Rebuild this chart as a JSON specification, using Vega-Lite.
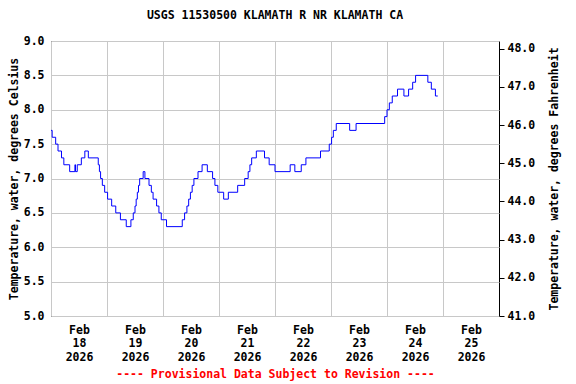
{
  "$schema": "https://vega.github.io/schema/vega-lite/v6.json",
  "width": 448,
  "height": 275,
  "autosize": {"type": "none"},
  "padding": {"left": 51, "top": 41, "right": 77, "bottom": 68},
  "background": "white",
  "config": {
    "view": {"stroke": "black", "strokeWidth": 1},
    "font": "DejaVu Sans Mono",
    "axis": {"labelFont": "DejaVu Sans Mono", "titleFont": "DejaVu Sans Mono", "labelFontWeight": "bold", "titleFontWeight": "bold", "labelFontSize": 11.5, "titleFontSize": 11.5, "labelColor": "black", "titleColor": "black", "domain": false, "gridColor": "#c8c8c8", "gridWidth": 1, "gridOpacity": 1}
  },
  "title": {"text": "USGS 11530500 KLAMATH R NR KLAMATH CA", "font": "DejaVu Sans Mono", "fontSize": 11.5, "fontWeight": "bold", "color": "black", "anchor": "middle", "offset": 14},
  "data": {"values": [
    {"t": "2026-02-18T00:00", "v": 7.7},
    {"t": "2026-02-18T00:30", "v": 7.6},
    {"t": "2026-02-18T02:00", "v": 7.5},
    {"t": "2026-02-18T03:00", "v": 7.4},
    {"t": "2026-02-18T04:30", "v": 7.3},
    {"t": "2026-02-18T05:30", "v": 7.2},
    {"t": "2026-02-18T08:00", "v": 7.1},
    {"t": "2026-02-18T10:15", "v": 7.2},
    {"t": "2026-02-18T10:30", "v": 7.1},
    {"t": "2026-02-18T11:15", "v": 7.2},
    {"t": "2026-02-18T13:00", "v": 7.3},
    {"t": "2026-02-18T14:30", "v": 7.4},
    {"t": "2026-02-18T16:00", "v": 7.3},
    {"t": "2026-02-18T20:15", "v": 7.2},
    {"t": "2026-02-18T20:45", "v": 7.1},
    {"t": "2026-02-18T21:15", "v": 7.0},
    {"t": "2026-02-18T22:00", "v": 6.9},
    {"t": "2026-02-18T23:00", "v": 6.8},
    {"t": "2026-02-19T00:15", "v": 6.7},
    {"t": "2026-02-19T02:00", "v": 6.6},
    {"t": "2026-02-19T03:45", "v": 6.5},
    {"t": "2026-02-19T05:45", "v": 6.4},
    {"t": "2026-02-19T08:15", "v": 6.3},
    {"t": "2026-02-19T10:15", "v": 6.4},
    {"t": "2026-02-19T11:15", "v": 6.5},
    {"t": "2026-02-19T12:00", "v": 6.6},
    {"t": "2026-02-19T12:30", "v": 6.7},
    {"t": "2026-02-19T13:00", "v": 6.8},
    {"t": "2026-02-19T13:30", "v": 6.9},
    {"t": "2026-02-19T14:00", "v": 7.0},
    {"t": "2026-02-19T15:30", "v": 7.1},
    {"t": "2026-02-19T16:15", "v": 7.0},
    {"t": "2026-02-19T18:00", "v": 6.9},
    {"t": "2026-02-19T19:00", "v": 6.8},
    {"t": "2026-02-19T19:45", "v": 6.7},
    {"t": "2026-02-19T21:15", "v": 6.6},
    {"t": "2026-02-19T22:15", "v": 6.5},
    {"t": "2026-02-19T23:15", "v": 6.4},
    {"t": "2026-02-20T01:30", "v": 6.3},
    {"t": "2026-02-20T08:15", "v": 6.4},
    {"t": "2026-02-20T09:15", "v": 6.5},
    {"t": "2026-02-20T10:15", "v": 6.6},
    {"t": "2026-02-20T11:00", "v": 6.7},
    {"t": "2026-02-20T11:45", "v": 6.8},
    {"t": "2026-02-20T12:30", "v": 6.9},
    {"t": "2026-02-20T13:15", "v": 7.0},
    {"t": "2026-02-20T15:00", "v": 7.1},
    {"t": "2026-02-20T16:45", "v": 7.2},
    {"t": "2026-02-20T19:00", "v": 7.1},
    {"t": "2026-02-20T21:15", "v": 7.0},
    {"t": "2026-02-20T22:15", "v": 6.9},
    {"t": "2026-02-20T23:30", "v": 6.8},
    {"t": "2026-02-21T02:00", "v": 6.7},
    {"t": "2026-02-21T04:00", "v": 6.8},
    {"t": "2026-02-21T08:00", "v": 6.9},
    {"t": "2026-02-21T11:00", "v": 7.0},
    {"t": "2026-02-21T12:30", "v": 7.1},
    {"t": "2026-02-21T13:15", "v": 7.2},
    {"t": "2026-02-21T14:00", "v": 7.3},
    {"t": "2026-02-21T16:00", "v": 7.4},
    {"t": "2026-02-21T19:30", "v": 7.3},
    {"t": "2026-02-21T21:30", "v": 7.2},
    {"t": "2026-02-22T00:00", "v": 7.1},
    {"t": "2026-02-22T06:30", "v": 7.2},
    {"t": "2026-02-22T08:30", "v": 7.1},
    {"t": "2026-02-22T11:15", "v": 7.2},
    {"t": "2026-02-22T13:15", "v": 7.3},
    {"t": "2026-02-22T19:30", "v": 7.4},
    {"t": "2026-02-22T23:15", "v": 7.5},
    {"t": "2026-02-23T00:15", "v": 7.6},
    {"t": "2026-02-23T01:00", "v": 7.7},
    {"t": "2026-02-23T02:15", "v": 7.8},
    {"t": "2026-02-23T08:00", "v": 7.7},
    {"t": "2026-02-23T10:45", "v": 7.8},
    {"t": "2026-02-23T23:00", "v": 7.9},
    {"t": "2026-02-24T00:00", "v": 8.0},
    {"t": "2026-02-24T01:00", "v": 8.1},
    {"t": "2026-02-24T02:15", "v": 8.2},
    {"t": "2026-02-24T04:30", "v": 8.3},
    {"t": "2026-02-24T07:15", "v": 8.2},
    {"t": "2026-02-24T09:15", "v": 8.3},
    {"t": "2026-02-24T11:00", "v": 8.4},
    {"t": "2026-02-24T12:15", "v": 8.5},
    {"t": "2026-02-24T17:30", "v": 8.4},
    {"t": "2026-02-24T19:00", "v": 8.3},
    {"t": "2026-02-24T20:45", "v": 8.2},
    {"t": "2026-02-24T21:45", "v": 8.2}
  ]},
  "layer": [
    {
      "mark": {"type": "line", "interpolate": "step-after", "color": "#0000ff", "strokeWidth": 1},
      "encoding": {
        "x": {"field": "t", "type": "temporal",
          "scale": {"domain": [{"year": 2026, "month": 2, "date": 18}, {"year": 2026, "month": 2, "date": 26}]},
          "axis": {
            "values": [
              {"year": 2026, "month": 2, "date": 18}, {"year": 2026, "month": 2, "date": 19},
              {"year": 2026, "month": 2, "date": 20}, {"year": 2026, "month": 2, "date": 21},
              {"year": 2026, "month": 2, "date": 22}, {"year": 2026, "month": 2, "date": 23},
              {"year": 2026, "month": 2, "date": 24}, {"year": 2026, "month": 2, "date": 25}
            ],
            "labelExpr": "[timeFormat(datum.value, '%b'), timeFormat(datum.value, '%d'), timeFormat(datum.value, '%Y')]",
            "labelOffset": 28, "labelAlign": "center", "labelBaseline": "top", "labelLineHeight": 13.5,
            "labelPadding": 8, "ticks": false, "tickSize": 0, "grid": true, "labelFlush": false, "labelOverlap": false,
            "title": "---- Provisional Data Subject to Revision ----", "titleColor": "#ff0000", "titlePadding": 6
          }
        },
        "y": {"field": "v", "type": "quantitative",
          "scale": {"domain": [5, 9], "nice": false, "zero": false},
          "axis": {"orient": "left", "values": [5, 5.5, 6, 6.5, 7, 7.5, 8, 8.5, 9], "format": ".1f", "grid": true, "ticks": false, "tickSize": 0, "labelPadding": 7, "title": "Temperature, water, degrees Celsius", "titlePadding": 4}
        }
      }
    },
    {
      "mark": {"type": "line", "opacity": 0},
      "encoding": {
        "x": {"field": "t", "type": "temporal"},
        "y": {"field": "v", "type": "quantitative",
          "scale": {"domain": [41, 48.2], "nice": false, "zero": false},
          "axis": {"orient": "right", "values": [41, 42, 43, 44, 45, 46, 47, 48], "format": ".1f", "grid": false, "ticks": true, "tickSize": 5, "tickColor": "black", "labelPadding": 3, "title": "Temperature, water, degrees Fahrenheit", "titleAngle": 270, "titlePadding": 25}
        }
      }
    }
  ],
  "resolve": {"scale": {"y": "independent"}}
}
